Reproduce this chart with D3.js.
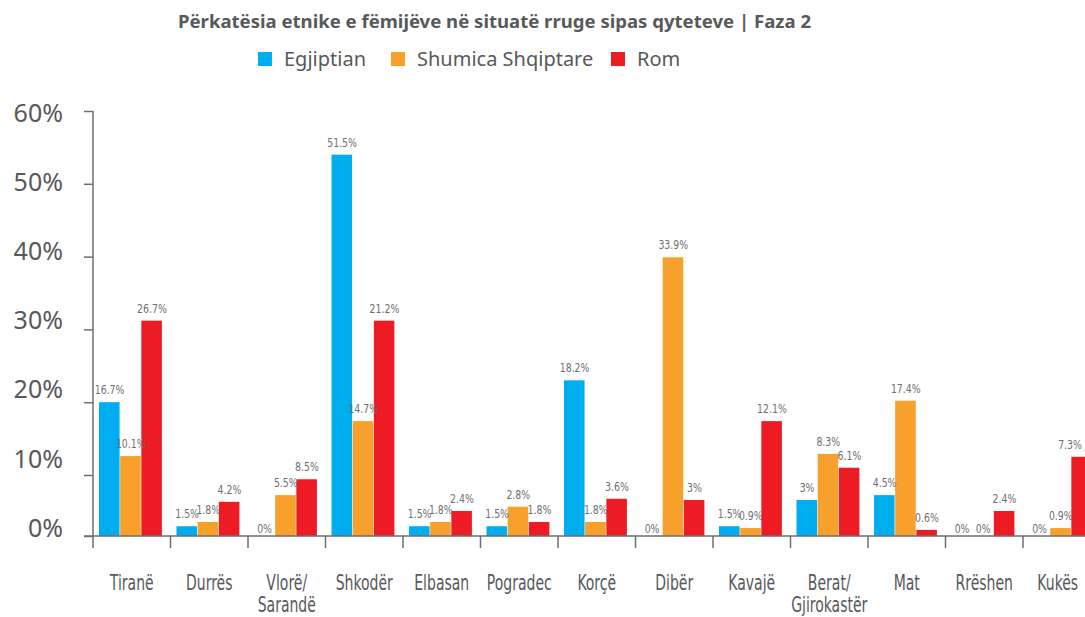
<!DOCTYPE html>
<html>
<head>
<meta charset="utf-8">
<script src="https://cdn.jsdelivr.net/npm/d3@7"></script>
<style>
  html, body { margin: 0; padding: 0; background: #fff; }
  svg { display: block; }
  .narrow { font-family: "Liberation Sans Narrow", "DejaVu Sans Condensed", "Arial Narrow", sans-serif; }
</style>
</head>
<body>
<div class="chart-container"></div>
<script>
// categories (cities) - "\n" marks a line break in the axis label
var categories = ["Tiranë", "Durrës", "Vlorë/\nSarandë", "Shkodër", "Elbasan", "Pogradec", "Korçë",
                  "Dibër", "Kavajë", "Berat/\nGjirokastër", "Mat", "Rrëshen", "Kukës"];
var seriesNames = ["Egjiptian", "Shumica Shqiptare", "Rom"];
var seriesColors = ["#00aeef", "#f7a02b", "#ed1c24"];

// bar heights as drawn in the picture (they do not always match the printed labels)
var egjiptian = [20.0, 1.6, 0, 54.0, 1.6, 1.6, 23.0, 0, 1.6, 5.9, 6.7, 0, 0];
var shumica   = [12.6, 2.3, 6.7, 17.4, 2.3, 4.8, 2.3, 39.9, 1.3, 12.9, 20.2, 0, 1.3];
var rom       = [31.2, 5.6, 9.3, 31.2, 4.1, 2.3, 6.1, 5.9, 17.4, 11.0, 1.0, 4.1, 12.5];

// labels as printed above the bars
var egjiptianLabels = ["16.7%", "1.5%", "0%", "51.5%", "1.5%", "1.5%", "18.2%", "0%", "1.5%", "3%", "4.5%", "0%", "0%"];
var shumicaLabels   = ["10.1%", "1.8%", "5.5%", "14.7%", "1.8%", "2.8%", "1.8%", "33.9%", "0.9%", "8.3%", "17.4%", "0%", "0.9%"];
var romLabels       = ["26.7%", "4.2%", "8.5%", "21.2%", "2.4%", "1.8%", "3.6%", "3%", "12.1%", "6.1%", "0.6%", "2.4%", "7.3%"];

var yTicks = [0, 10, 20, 30, 40, 50, 60];

draw();

function draw() {
    var W = 1085, H = 617;
    var values = [egjiptian, shumica, rom];
    var labels = [egjiptianLabels, shumicaLabels, romLabels];

    var svg = d3.select('.chart-container').append('svg')
        .attr('width', W).attr('height', H);

    // the original axis is not evenly spaced between 0 and 10
    var y = d3.scaleLinear().domain([0, 10, 60]).range([536, 475, 111]);
    var yLabel = d3.scaleLinear().domain([0, 60]).range([528, 113]);

    var x0 = d3.scaleBand().domain(d3.range(categories.length)).range([93, 1100.5]).padding(0);
    var x1 = d3.scaleBand().domain(d3.range(seriesNames.length)).range([6, x0.bandwidth() - 8]).padding(0);

    // title
    svg.append('text')
        .attr('x', 178).attr('y', 28)
        .attr('textLength', 633).attr('lengthAdjust', 'spacingAndGlyphs')
        .style('font-family', '"Noto Sans", sans-serif')
        .style('font-weight', 'bold').style('font-size', '17.5px')
        .style('fill', '#58595b')
        .text('Përkatësia etnike e fëmijëve në situatë rruge sipas qyteteve | Faza 2');

    // legend
    var legendX = [258, 391, 611];
    var legend = svg.append('g').selectAll('g').data(seriesNames).enter().append('g')
        .attr('transform', function (d, i) { return 'translate(' + legendX[i] + ',52)'; });
    legend.append('rect').attr('width', 14).attr('height', 14)
        .attr('fill', function (d, i) { return seriesColors[i]; });
    legend.append('text').attr('x', 26).attr('y', 14)
        .style('font-family', '"Noto Sans", sans-serif').style('font-size', '20px')
        .style('fill', '#58595b')
        .text(function (d) { return d; });

    // bars
    var groups = svg.append('g').selectAll('g').data(categories).enter().append('g')
        .attr('transform', function (d, i) { return 'translate(' + x0(i) + ',0)'; });

    groups.selectAll('rect')
        .data(function (d, i) { return values.map(function (s, k) { return { k: k, v: s[i] }; }); })
        .enter().append('rect')
        .attr('x', function (d) { return x1(d.k); })
        .attr('width', x1.bandwidth() - 0.6)
        .attr('y', function (d) { return y(d.v); })
        .attr('height', function (d) { return y(0) - y(d.v); })
        .attr('fill', function (d) { return seriesColors[d.k]; });

    // value labels; keep the last one inside the picture
    groups.selectAll('text')
        .data(function (d, i) { return values.map(function (s, k) { return { i: i, k: k, v: s[i], t: labels[k][i] }; }); })
        .enter().append('text')
        .attr('class', 'narrow')
        .attr('transform', function (d) {
            var cx = x1(d.k) + x1.bandwidth() / 2;
            var maxCx = W - 15 - x0(d.i);
            return 'translate(' + Math.min(cx, maxCx) + ',' + (y(d.v) - (d.v === 0 ? 3 : 8)) + ') scale(0.8,1)';
        })
        .attr('text-anchor', 'middle')
        .style('font-size', '13px').style('fill', '#6d6e70')
        .text(function (d) { return d.t; });

    // y axis
    var yAxis = svg.append('g').attr('transform', 'translate(93,0)')
        .call(d3.axisLeft(y).tickValues(yTicks).tickSize(9).tickFormat(''));
    yAxis.select('.domain').remove();
    yAxis.selectAll('line').attr('stroke', '#6d6e70').attr('stroke-width', 1.5);
    svg.append('line').attr('x1', 93).attr('x2', 93).attr('y1', y(60)).attr('y2', 548)
        .attr('stroke', '#6d6e70').attr('stroke-width', 1.5);

    svg.append('g').selectAll('text').data(yTicks).enter().append('text')
        .attr('x', 63).attr('y', function (d) { return yLabel(d); })
        .attr('dy', '0.35em').attr('text-anchor', 'end')
        .style('font-family', '"Noto Sans", sans-serif').style('font-size', '25px')
        .style('fill', '#58595b')
        .text(function (d) { return d + '%'; });

    // x axis
    svg.append('line').attr('x1', 84).attr('x2', W).attr('y1', y(0)).attr('y2', y(0))
        .attr('stroke', '#6d6e70').attr('stroke-width', 1.5);
    svg.append('g').selectAll('line').data(d3.range(1, categories.length)).enter().append('line')
        .attr('x1', function (i) { return x0(i); }).attr('x2', function (i) { return x0(i); })
        .attr('y1', y(0)).attr('y2', 548)
        .attr('stroke', '#6d6e70').attr('stroke-width', 1.5);

    var catLabels = svg.append('g').selectAll('text').data(categories).enter().append('text')
        .attr('class', 'narrow')
        .attr('text-anchor', 'middle')
        .style('font-size', '20.5px').style('fill', '#58595b')
        .attr('transform', function (d, i) { return 'translate(' + (x0(i) + x0.bandwidth() / 2 - (i === categories.length - 1 ? 4 : 0)) + ',590) scale(0.76,1)'; });
    catLabels.selectAll('tspan').data(function (d) { return d.split('\n'); }).enter().append('tspan')
        .attr('x', 0).attr('dy', function (d, i) { return i === 0 ? 0 : 22; })
        .text(function (d) { return d; });
}
</script>
</body>
</html>
